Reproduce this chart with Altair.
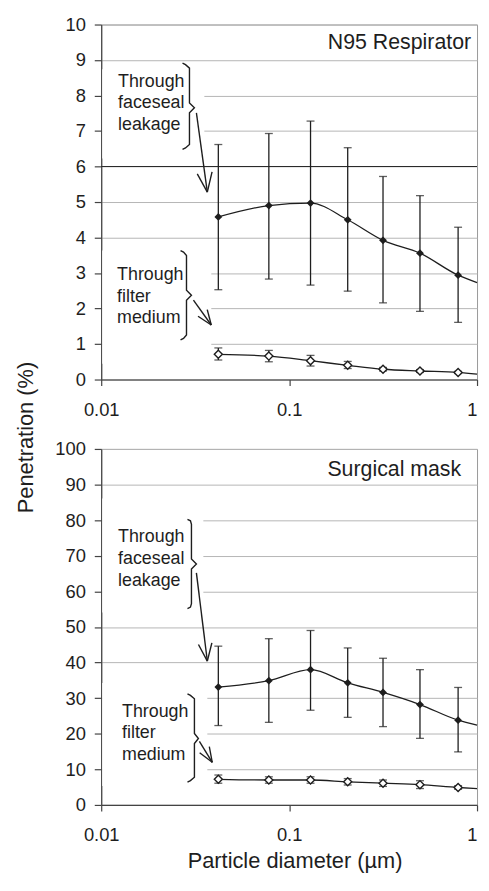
import math
import altair as alt
import pandas as pd

# ---------------- values ----------------
diameter = [0.042, 0.078, 0.130, 0.205, 0.316, 0.497, 0.793]
edge_diameter = 1.0

n95_leak_mean = [4.58, 4.90, 4.97, 4.50, 3.92, 3.56, 2.94]
n95_leak_hi = [6.62, 6.93, 7.28, 6.53, 5.72, 5.18, 4.29]
n95_leak_lo = [2.53, 2.83, 2.66, 2.49, 2.16, 1.92, 1.61]
n95_leak_edge = 2.73

n95_filt_mean = [0.71, 0.66, 0.53, 0.40, 0.29, 0.24, 0.20]
n95_filt_hi = [0.89, 0.82, 0.68, 0.51, 0.34, 0.28, 0.23]
n95_filt_lo = [0.55, 0.50, 0.38, 0.31, 0.24, 0.20, 0.17]
n95_filt_edge = 0.15

surg_leak_mean = [33.1, 34.9, 38.0, 34.3, 31.6, 28.2, 23.8]
surg_leak_hi = [44.6, 46.7, 49.0, 44.1, 41.2, 38.0, 33.0]
surg_leak_lo = [22.3, 23.2, 26.6, 24.6, 22.0, 18.7, 14.9]
surg_leak_edge = 22.4

surg_filt_mean = [7.2, 7.0, 7.0, 6.5, 6.1, 5.7, 4.9]
surg_filt_hi = [8.4, 7.9, 7.9, 7.4, 7.0, 6.8, 5.4]
surg_filt_lo = [6.1, 6.1, 6.1, 5.6, 5.2, 4.6, 4.4]
surg_filt_edge = 4.6

x_ticks = [0.01, 0.1, 1]
n95_y_ticks = list(range(0, 11, 1))
surg_y_ticks = list(range(0, 101, 10))

panel_labels = ["N95 Respirator", "Surgical mask"]
leak_text = "Through\nfaceseal\nleakage"
filt_text = "Through\nfilter\nmedium"

# ---------------- layout / style ----------------
W = 379
H_TOP = 358
H_BOT = 359
FONT = "Liberation Sans"
INK = "#1e1e1e"


def to_x(px):
    return 10 ** (-2 + 2 * px / W)


def to_y(py, H, ymax):
    return ymax * (1 - py / H)


def brace_points(xL, xS, xT, top, mid, bot):
    return [(xL, top), (xL + 3, top + 1.5), (xS, top + 5), (xS, mid - 5), (xT, mid),
            (xS, mid + 5), (xS, bot - 5), (xL + 3, bot - 1.5), (xL, bot)]


def arrow_segments(x0, y0, x1, y1, L, ang=21):
    dx, dy = x1 - x0, y1 - y0
    n = math.hypot(dx, dy)
    vx, vy = -dx / n, -dy / n
    segs = [(x0, y0, x1, y1)]
    for s in (1, -1):
        a = math.radians(ang * s)
        rx = vx * math.cos(a) - vy * math.sin(a)
        ry = vx * math.sin(a) + vy * math.cos(a)
        segs.append((x1, y1, x1 + L * rx, y1 + L * ry))
    return segs


def panel(H, ymax, yticks, leak, filt, label, label_pos, ann, top_panel):
    lmean, lhi, llo, ledge = leak
    fmean, fhi, flo, fedge = filt

    xs = alt.Scale(type="log", domain=[0.01, 1], nice=False)
    ys = alt.Scale(domain=[0, ymax], nice=False, zero=True)
    label_align = {"condition": {"test": "datum.value >= 1", "value": "right"}, "value": "center"}
    if top_panel:
        X = alt.X("x:Q", scale=xs, title=None,
                  axis=alt.Axis(values=x_ticks, format="~g", grid=False, tickSize=6,
                                labelPadding=15, labelFlush=False, labelAlign=label_align))
        Y = alt.Y("y:Q", scale=ys, title="Penetration (%)",
                  axis=alt.Axis(values=yticks, tickSize=7, labelPadding=9, labelOverlap=False,
                                titleX=-69, titleY=416, titleAngle=270, titleAlign="center",
                                titleBaseline="alphabetic"))
    else:
        X = alt.X("x:Q", scale=xs, title="Particle diameter (\u00b5m)",
                  axis=alt.Axis(values=x_ticks, format="~g", grid=False, tickSize=6,
                                labelPadding=15, labelFlush=False, labelAlign=label_align,
                                titleX=195, titleY=63, titleAlign="center",
                                titleBaseline="alphabetic"))
        Y = alt.Y("y:Q", scale=ys, title=None,
                  axis=alt.Axis(values=yticks, tickSize=7, labelPadding=9, labelOverlap=False))

    pts = pd.DataFrame({
        "x": diameter * 2,
        "y": lmean + fmean,
        "s": ["leak"] * 7 + ["filt"] * 7,
    })
    bars = pd.DataFrame({"x": diameter * 2, "y": llo + flo, "y2": lhi + fhi})
    line_df = pd.DataFrame({
        "x": diameter + [edge_diameter] + diameter + [edge_diameter],
        "y": lmean + [ledge] + fmean + [fedge],
        "s": ["leak"] * 8 + ["filt"] * 8,
    })
    caps = pd.DataFrame({"x": diameter * 4, "y": llo + lhi + flo + fhi})

    # annotation geometry (planned in plot pixels, converted to data units)
    masks = pd.DataFrame([
        {"x": to_x(r[0]), "x2": to_x(r[1]), "y": to_y(r[2], H, ymax), "y2": to_y(r[3], H, ymax)}
        for r in ann["masks"]
    ])
    texts = pd.DataFrame([
        {"x": to_x(t[0]), "y": to_y(t[1], H, ymax), "t": t[2]} for t in ann["texts"]
    ])
    brows = []
    for bi, b in enumerate(ann["braces"]):
        for i, (px, py) in enumerate(brace_points(*b)):
            brows.append({"x": to_x(px), "y": to_y(py, H, ymax), "b": bi, "i": i})
    braces = pd.DataFrame(brows)
    arows = []
    for a in ann["arrows"]:
        for (x0, y0, x1, y1) in arrow_segments(*a):
            arows.append({"x": to_x(x0), "y": to_y(y0, H, ymax),
                          "x2": to_x(x1), "y2": to_y(y1, H, ymax)})
    arrows = pd.DataFrame(arows)

    layers = []
    layers.append(alt.Chart(masks).mark_rect(color="white").encode(
        x=X, x2="x2:Q", y=Y, y2="y2:Q"))
    if "dark_rule" in ann:
        layers.append(alt.Chart(pd.DataFrame({"y": [ann["dark_rule"]]})).mark_rule(
            color="#2a2a2a", strokeWidth=1.2).encode(y=Y))
    layers.append(alt.Chart(bars).mark_rule(color=INK, strokeWidth=1.3).encode(
        x=X, y=Y, y2="y2:Q"))
    layers.append(alt.Chart(caps).mark_tick(color=INK, orient="horizontal", size=8,
                                            thickness=1.3).encode(x=X, y=Y))
    layers.append(alt.Chart(line_df).mark_line(color=INK, strokeWidth=1.3,
                                               interpolate="monotone").encode(
        x=X, y=Y, detail="s:N"))
    layers.append(alt.Chart(pts[pts.s == "leak"]).mark_point(
        shape="diamond", size=62, filled=True, color=INK, opacity=1).encode(x=X, y=Y))
    layers.append(alt.Chart(pts[pts.s == "filt"]).mark_point(
        shape="diamond", size=66, filled=False, fill="white", stroke=INK, strokeWidth=1.4,
        opacity=1, fillOpacity=1).encode(x=X, y=Y))
    layers.append(alt.Chart(texts).mark_text(
        align="left", baseline="alphabetic", lineBreak="\n", lineHeight=ann["lh"],
        fontSize=18, font=FONT, color=INK).encode(x=X, y=Y, text="t:N"))
    layers.append(alt.Chart(braces).mark_line(color=INK, strokeWidth=1.4,
                                              interpolate="linear").encode(
        x=X, y=Y, detail="b:N", order="i:Q"))
    layers.append(alt.Chart(arrows).mark_rule(color=INK, strokeWidth=1.4).encode(
        x=X, y=Y, x2="x2:Q", y2="y2:Q"))
    layers.append(alt.Chart(pd.DataFrame({"t": [label]})).mark_text(
        align="right", baseline="alphabetic", fontSize=21.5, font=FONT, color=INK).encode(
        x=alt.value(label_pos[0]), y=alt.value(label_pos[1]), text="t:N"))

    return alt.layer(*layers).properties(width=W, height=H)


top_ann = {
    "masks": [(1, 104, 45, 135), (1, 111, 228, 342)],
    "texts": [(17, 63, leak_text), (16, 258, filt_text)],
    "braces": [(82, 89, 94, 39, 84, 126), (80, 86, 91, 228, 273, 318)],
    "arrows": [(96, 89, 107, 169, 21), (93, 278, 111, 303, 16)],
    "lh": 21.5,
    "dark_rule": 6,
}
bot_ann = {
    "masks": [(1, 103, 50, 165), (1, 107, 236, 340)],
    "texts": [(17, 94, leak_text), (21, 270, filt_text)],
    "braces": [(87, 91, 96, 71, 116, 161), (87, 94, 98, 247, 292, 336)],
    "arrows": [(96, 125, 107, 214, 19), (99, 295, 112, 316, 16)],
    "lh": 22,
}

top = panel(H_TOP, 10, n95_y_ticks,
            (n95_leak_mean, n95_leak_hi, n95_leak_lo, n95_leak_edge),
            (n95_filt_mean, n95_filt_hi, n95_filt_lo, n95_filt_edge),
            panel_labels[0], (W - 6, 25), top_ann, True)
bottom = panel(H_BOT, 100, surg_y_ticks,
               (surg_leak_mean, surg_leak_hi, surg_leak_lo, surg_leak_edge),
               (surg_filt_mean, surg_filt_hi, surg_filt_lo, surg_filt_edge),
               panel_labels[1], (W - 16, 27), bot_ann, False)

chart = alt.vconcat(top, bottom, spacing=70, bounds="flush").properties(
    padding={"top": 3, "left": 6, "right": 0, "bottom": 0}
).configure(font=FONT).configure_view(
    stroke="#9a9a9a", strokeWidth=1
).configure_axis(
    labelFont=FONT, titleFont=FONT, labelColor=INK, titleColor=INK,
    domainColor="#444", tickColor="#444", gridColor="#b5b5b5",
    labelFontSize=18.5, titleFontSize=22, titleFontWeight="normal",
    domainWidth=1.2, tickWidth=1.2
)

chart.save("out.html", embed_options={"renderer": "svg", "actions": False})
